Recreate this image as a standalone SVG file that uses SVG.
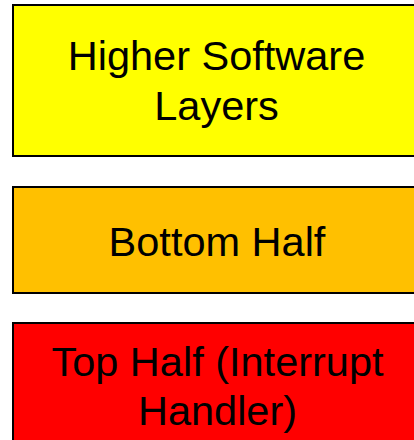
<svg xmlns="http://www.w3.org/2000/svg" width="414" height="440" viewBox="0 0 414 440">
<style>
.box{stroke:#000;stroke-width:2}
.t{font-family:"Liberation Sans",Arial,sans-serif;font-size:41.5px;fill:#000;text-anchor:middle}
</style>
<rect width="414" height="440" fill="#fff"/>
<g id="higher">
<rect class="box" x="13" y="5" width="412" height="151" fill="#FFFF00"/>
<text class="t" x="216.5" y="70">Higher Software</text>
<text class="t" x="216.5" y="120">Layers</text>
</g>
<g id="bottom">
<rect class="box" x="13" y="187" width="412" height="106" fill="#FFC000"/>
<text class="t" x="217" y="256">Bottom Half</text>
</g>
<g id="top">
<rect class="box" x="13" y="323" width="412" height="130" fill="#FF0000"/>
<text class="t" x="217.5" y="376">Top Half (Interrupt</text>
<text class="t" x="217.5" y="425">Handler)</text>
</g>
<g id="connectors"></g>
</svg>
